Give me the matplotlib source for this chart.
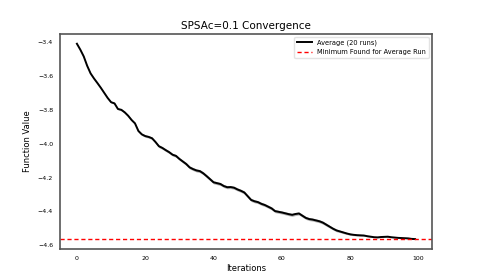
import matplotlib
matplotlib.use("Agg")
from matplotlib import pyplot as plt
import numpy as np

# Average function value per iteration (20 runs)
iterations = list(range(100))
avg_values = [
    -3.410, -3.445, -3.485, -3.540, -3.585, -3.615, -3.642, -3.670, -3.700, -3.730,
    -3.755, -3.762, -3.795, -3.800, -3.815, -3.835, -3.860, -3.880, -3.925, -3.945,
    -3.955, -3.960, -3.968, -3.990, -4.015, -4.025, -4.038, -4.050, -4.065, -4.072,
    -4.090, -4.105, -4.120, -4.140, -4.150, -4.158, -4.162, -4.175, -4.192, -4.210,
    -4.228, -4.233, -4.238, -4.250, -4.257, -4.256, -4.260, -4.270, -4.278, -4.288,
    -4.310, -4.332, -4.340, -4.345, -4.355, -4.362, -4.372, -4.382, -4.398, -4.402,
    -4.406, -4.411, -4.416, -4.420, -4.415, -4.412, -4.425, -4.438, -4.445, -4.448,
    -4.453, -4.458, -4.466, -4.478, -4.490, -4.502, -4.512, -4.518, -4.524, -4.530,
    -4.535, -4.538, -4.540, -4.541, -4.542, -4.546, -4.549, -4.552, -4.553, -4.551,
    -4.550, -4.549, -4.552, -4.554, -4.556, -4.557, -4.558, -4.559, -4.562, -4.563,
]
# spread of the runs around the average
spread = [
    0.002, 0.002, 0.003, 0.003, 0.003, 0.004, 0.004, 0.004, 0.004, 0.005,
    0.005, 0.005, 0.005, 0.006, 0.006, 0.006, 0.006, 0.006, 0.007, 0.007,
    0.007, 0.007, 0.007, 0.007, 0.008, 0.008, 0.008, 0.008, 0.008, 0.008,
    0.008, 0.008, 0.009, 0.009, 0.009, 0.009, 0.009, 0.009, 0.009, 0.009,
    0.009, 0.009, 0.009, 0.009, 0.009, 0.009, 0.009, 0.009, 0.009, 0.009,
    0.009, 0.009, 0.009, 0.009, 0.009, 0.009, 0.009, 0.009, 0.009, 0.009,
    0.009, 0.009, 0.009, 0.009, 0.009, 0.009, 0.009, 0.009, 0.009, 0.009,
    0.009, 0.009, 0.009, 0.009, 0.008, 0.008, 0.008, 0.007, 0.007, 0.006,
    0.006, 0.005, 0.005, 0.005, 0.004, 0.004, 0.004, 0.003, 0.003, 0.003,
    0.003, 0.003, 0.002, 0.002, 0.002, 0.002, 0.002, 0.002, 0.002, 0.002,
]
min_found = -4.562

avg = np.array(avg_values)
sd = np.array(spread)

fig, ax = plt.subplots(figsize=(4.8, 2.8), dpi=100)
fig.subplots_adjust(left=0.125, right=0.9, bottom=0.11, top=0.88)

ax.fill_between(iterations, avg - sd, avg + sd, color='gray', alpha=0.6, linewidth=0)
ax.plot(iterations, avg, color='black', linewidth=1.4, label='Average (20 runs)')
ax.axhline(min_found, color='#ff0000', linestyle=(0, (3, 2)), linewidth=1.0,
           label='Minimum Found for Average Run')

ax.set_title('SPSAc=0.1 Convergence', fontsize=7.5, pad=3)
ax.set_xlabel('Iterations', fontsize=6, labelpad=2)
ax.set_ylabel('Function Value', fontsize=6, labelpad=4)
ax.set_xticks([0, 20, 40, 60, 80, 100])
ax.set_yticks([-3.4, -3.6, -3.8, -4.0, -4.2, -4.4, -4.6])
ax.tick_params(labelsize=4.5, length=0, pad=5)
for s in ax.spines.values():
    s.set_color('#555555')
    s.set_linewidth(1.2)

ax.legend(loc='upper right', fontsize=4.8, frameon=True, edgecolor='#dddddd',
          fancybox=True, handlelength=2.2)

plt.savefig('out.png', dpi=100)
plt.close()
